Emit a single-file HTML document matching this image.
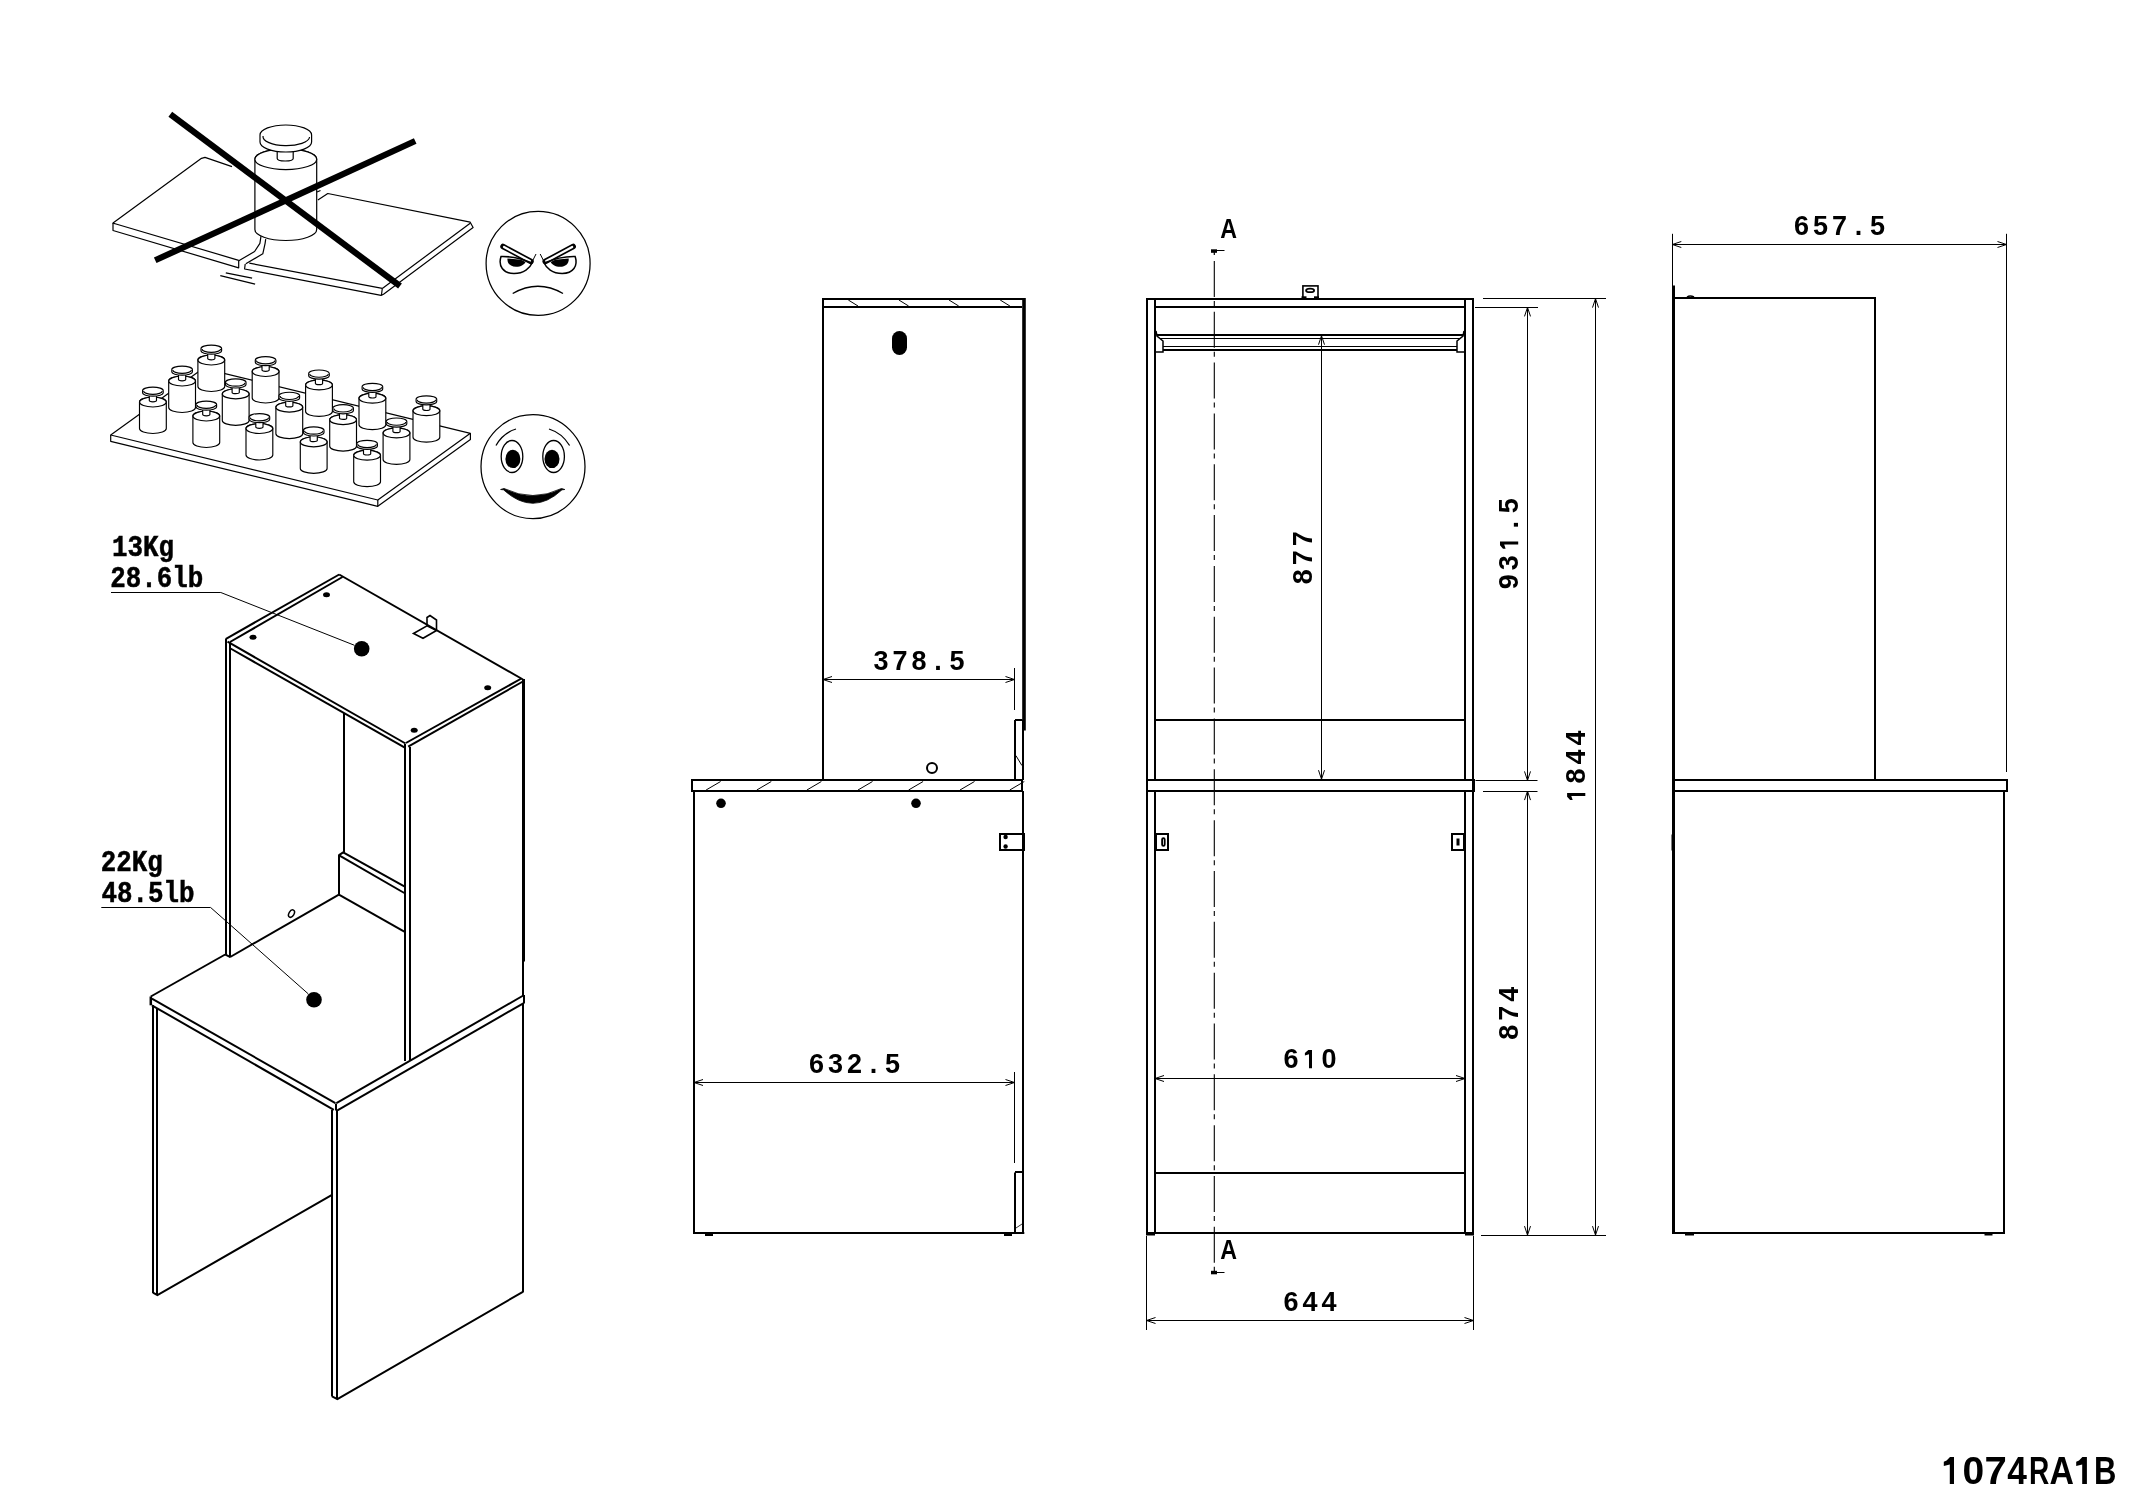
<!DOCTYPE html>
<html><head><meta charset="utf-8"><title>1074RA1B</title>
<style>
html,body{margin:0;padding:0;background:#fff;}
body{width:2134px;height:1509px;overflow:hidden;}
svg{display:block;will-change:transform;}
.dim{font-family:"Liberation Sans",sans-serif;font-weight:bold;font-size:27px;fill:#000;stroke:none;}
.lbl{font-family:"Liberation Sans",sans-serif;font-weight:bold;font-size:27px;fill:#000;stroke:none;}
.lbl2{font-family:"Liberation Mono",monospace;font-weight:bold;font-size:29px;fill:#000;stroke:#000;stroke-width:0.5px;}
.code{font-family:"Liberation Sans",sans-serif;font-weight:bold;font-size:39px;fill:#000;stroke:none;}
</style></head>
<body>
<svg width="2134" height="1509" viewBox="0 0 2134 1509">
<rect width="2134" height="1509" fill="#fff"/>
<g stroke="#000" fill="none" stroke-linecap="butt">
<g id="broken" stroke-linejoin="round">
<polyline points="238.7,260.3 116,224 113,223.1 201.5,158.3 205,157.4 232,166.6" stroke-width="1.2" fill="none"/>
<polyline points="113,223.1 113,230.5 238.7,267.8 238.7,260.3" stroke-width="1.2" fill="none"/>
<polyline points="317.9,199.9 327.8,193.5 470.2,222.2 473.1,227.5 383.5,294.2 381.1,295.4 244.6,269 245.2,264" stroke-width="1.2" fill="none"/>
<line x1="470.2" y1="223.3" x2="382.3" y2="288.4" stroke-width="1.2"/>
<line x1="249.3" y1="263.2" x2="382.3" y2="288.4" stroke-width="1.2"/>
<line x1="382.3" y1="288.4" x2="381.5" y2="295" stroke-width="1.2"/>
<polyline points="238.8,260.8 254.6,251.5 259.9,243.3 261,236.2" stroke-width="1.2" fill="none"/>
<polyline points="245.8,263.8 262.8,253.8 265.1,243.3 265.7,239.2" stroke-width="1.2" fill="none"/>
<line x1="220.3" y1="275.7" x2="255.1" y2="284.2" stroke-width="1.2"/>
<line x1="225.8" y1="272.8" x2="252.1" y2="278.2" stroke-width="1.2"/>
<path d="M254.9,159.2 A30.9,10.4 0 0 1 316.7,159.2 L316.7,229.5 A30.9,11 0 0 1 254.9,229.5 Z" stroke-width="1.2" fill="#fff" />
<ellipse cx="285.8" cy="159.2" rx="30.9" ry="10.4" stroke-width="1.2" fill="#fff"/>
<path d="M277.2,150 L277.2,158.5 A8,2.5 0 0 0 293.2,158.5 L293.2,150" stroke-width="1.2" fill="#fff" />
<path d="M260.0,135 A25.8,10 0 0 1 311.6,135 L311.6,142 A25.8,10 0 0 1 260.0,142 Z" stroke-width="1.2" fill="#fff" />
<path d="M263.0,136 A22.8,9 0 0 0 309.6,137" stroke-width="1.2" fill="none" />
<line x1="317" y1="192" x2="320.5" y2="190.5" stroke-width="1.2"/>
<line x1="170.3" y1="114.2" x2="400" y2="286.1" stroke-width="6.2"/>
<line x1="155.2" y1="260.3" x2="415.2" y2="141" stroke-width="6.2"/>
</g>
<g id="sad">
<circle cx="538.1" cy="263.4" r="52" stroke-width="1.25" fill="none"/>
<line x1="503.0" y1="246.5" x2="531.0" y2="261.5" stroke-width="5.5" stroke-linecap="round"/>
<line x1="504.0" y1="247" x2="530.0" y2="261" stroke-width="2.2" stroke="#fff" stroke-linecap="round"/>
<path d="M501.0,256.5 C498.0,266 503.0,273.5 514.0,273.5 C524.0,273.5 530.0,268 532.0,263" stroke-width="1.5" fill="none" />
<path d="M500.5,256.5 Q516.0,256 532.0,263" stroke-width="1.6" fill="none" />
<path d="M507.5,258.5 C507.0,264 511.0,266.8 516.0,266.8 C521.0,266.8 524.5,264.5 525.5,262 L521.0,259.8 Z" stroke-width="0" fill="#000" />
<line x1="532.0" y1="262" x2="536.0" y2="254" stroke-width="1"/>
<line x1="573.2" y1="246.5" x2="545.2" y2="261.5" stroke-width="5.5" stroke-linecap="round"/>
<line x1="572.2" y1="247" x2="546.2" y2="261" stroke-width="2.2" stroke="#fff" stroke-linecap="round"/>
<path d="M575.2,256.5 C578.2,266 573.2,273.5 562.2,273.5 C552.2,273.5 546.2,268 544.2,263" stroke-width="1.5" fill="none" />
<path d="M575.7,256.5 Q560.2,256 544.2,263" stroke-width="1.6" fill="none" />
<path d="M568.7,258.5 C569.2,264 565.2,266.8 560.2,266.8 C555.2,266.8 551.7,264.5 550.7,262 L555.2,259.8 Z" stroke-width="0" fill="#000" />
<line x1="544.2" y1="262" x2="540.2" y2="254" stroke-width="1"/>
<path d="M512.7,293.5 Q538,279 563,293.5" stroke-width="1.4" fill="none" />
</g>
<g id="board" stroke-linejoin="round">
<polygon points="110.7,435 203.3,368.3 470.4,433.3 377.8,500" stroke-width="1.2" fill="#fff"/>
<polyline points="110.7,435 110.7,441.3 377.8,506.3 470.4,439.5 470.4,433.3" stroke-width="1.2" fill="none"/>
<line x1="377.8" y1="500" x2="377.8" y2="506.3" stroke-width="1.2"/>
<path d="M197.9,360.1 A13.4,4.9 0 0 1 224.70000000000002,360.1 L224.70000000000002,386.6 A13.4,4.9 0 0 1 197.9,386.6 Z" stroke-width="1.15" fill="#fff" />
<ellipse cx="211.3" cy="360.1" rx="13.4" ry="4.9" stroke-width="1.15" fill="#fff"/>
<path d="M207.70000000000002,354.1 L207.70000000000002,358.6 A3.6,1.2 0 0 0 214.9,358.6 L214.9,354.1" stroke-width="1.15" fill="#fff" />
<path d="M201.0,348.5 A10.3,3.4 0 0 1 221.60000000000002,348.5 L221.60000000000002,350.8 A10.3,3.4 0 0 1 201.0,350.8 Z" stroke-width="1.15" fill="#fff" />
<path d="M202.0,349.0 A9.3,3.4 0 0 0 220.60000000000002,349.0" stroke-width="1.15" fill="none" />
<path d="M252.20000000000002,371.6 A13.4,4.9 0 0 1 279.0,371.6 L279.0,398.1 A13.4,4.9 0 0 1 252.20000000000002,398.1 Z" stroke-width="1.15" fill="#fff" />
<ellipse cx="265.6" cy="371.6" rx="13.4" ry="4.9" stroke-width="1.15" fill="#fff"/>
<path d="M262.0,365.6 L262.0,370.1 A3.6,1.2 0 0 0 269.20000000000005,370.1 L269.20000000000005,365.6" stroke-width="1.15" fill="#fff" />
<path d="M255.3,360.0 A10.3,3.4 0 0 1 275.90000000000003,360.0 L275.90000000000003,362.3 A10.3,3.4 0 0 1 255.3,362.3 Z" stroke-width="1.15" fill="#fff" />
<path d="M256.3,360.5 A9.3,3.4 0 0 0 274.90000000000003,360.5" stroke-width="1.15" fill="none" />
<path d="M168.7,381.1 A13.4,4.9 0 0 1 195.5,381.1 L195.5,407.6 A13.4,4.9 0 0 1 168.7,407.6 Z" stroke-width="1.15" fill="#fff" />
<ellipse cx="182.1" cy="381.1" rx="13.4" ry="4.9" stroke-width="1.15" fill="#fff"/>
<path d="M178.5,375.1 L178.5,379.6 A3.6,1.2 0 0 0 185.7,379.6 L185.7,375.1" stroke-width="1.15" fill="#fff" />
<path d="M171.79999999999998,369.5 A10.3,3.4 0 0 1 192.4,369.5 L192.4,371.8 A10.3,3.4 0 0 1 171.79999999999998,371.8 Z" stroke-width="1.15" fill="#fff" />
<path d="M172.79999999999998,370.0 A9.3,3.4 0 0 0 191.4,370.0" stroke-width="1.15" fill="none" />
<path d="M305.6,385.0 A13.4,4.9 0 0 1 332.4,385.0 L332.4,411.5 A13.4,4.9 0 0 1 305.6,411.5 Z" stroke-width="1.15" fill="#fff" />
<ellipse cx="319" cy="385.0" rx="13.4" ry="4.9" stroke-width="1.15" fill="#fff"/>
<path d="M315.4,379.0 L315.4,383.5 A3.6,1.2 0 0 0 322.6,383.5 L322.6,379.0" stroke-width="1.15" fill="#fff" />
<path d="M308.7,373.4 A10.3,3.4 0 0 1 329.3,373.4 L329.3,375.7 A10.3,3.4 0 0 1 308.7,375.7 Z" stroke-width="1.15" fill="#fff" />
<path d="M309.7,373.9 A9.3,3.4 0 0 0 328.3,373.9" stroke-width="1.15" fill="none" />
<path d="M222.29999999999998,393.90000000000003 A13.4,4.9 0 0 1 249.1,393.90000000000003 L249.1,420.40000000000003 A13.4,4.9 0 0 1 222.29999999999998,420.40000000000003 Z" stroke-width="1.15" fill="#fff" />
<ellipse cx="235.7" cy="393.90000000000003" rx="13.4" ry="4.9" stroke-width="1.15" fill="#fff"/>
<path d="M232.1,387.90000000000003 L232.1,392.40000000000003 A3.6,1.2 0 0 0 239.29999999999998,392.40000000000003 L239.29999999999998,387.90000000000003" stroke-width="1.15" fill="#fff" />
<path d="M225.39999999999998,382.3 A10.3,3.4 0 0 1 246.0,382.3 L246.0,384.6 A10.3,3.4 0 0 1 225.39999999999998,384.6 Z" stroke-width="1.15" fill="#fff" />
<path d="M226.39999999999998,382.8 A9.3,3.4 0 0 0 245.0,382.8" stroke-width="1.15" fill="none" />
<path d="M359.0,398.3 A13.4,4.9 0 0 1 385.79999999999995,398.3 L385.79999999999995,424.8 A13.4,4.9 0 0 1 359.0,424.8 Z" stroke-width="1.15" fill="#fff" />
<ellipse cx="372.4" cy="398.3" rx="13.4" ry="4.9" stroke-width="1.15" fill="#fff"/>
<path d="M368.79999999999995,392.3 L368.79999999999995,396.8 A3.6,1.2 0 0 0 376.0,396.8 L376.0,392.3" stroke-width="1.15" fill="#fff" />
<path d="M362.09999999999997,386.7 A10.3,3.4 0 0 1 382.7,386.7 L382.7,389.0 A10.3,3.4 0 0 1 362.09999999999997,389.0 Z" stroke-width="1.15" fill="#fff" />
<path d="M363.09999999999997,387.2 A9.3,3.4 0 0 0 381.7,387.2" stroke-width="1.15" fill="none" />
<path d="M139.5,402.1 A13.4,4.9 0 0 1 166.3,402.1 L166.3,428.6 A13.4,4.9 0 0 1 139.5,428.6 Z" stroke-width="1.15" fill="#fff" />
<ellipse cx="152.9" cy="402.1" rx="13.4" ry="4.9" stroke-width="1.15" fill="#fff"/>
<path d="M149.3,396.1 L149.3,400.6 A3.6,1.2 0 0 0 156.5,400.6 L156.5,396.1" stroke-width="1.15" fill="#fff" />
<path d="M142.6,390.5 A10.3,3.4 0 0 1 163.20000000000002,390.5 L163.20000000000002,392.8 A10.3,3.4 0 0 1 142.6,392.8 Z" stroke-width="1.15" fill="#fff" />
<path d="M143.6,391.0 A9.3,3.4 0 0 0 162.20000000000002,391.0" stroke-width="1.15" fill="none" />
<path d="M275.90000000000003,407.20000000000005 A13.4,4.9 0 0 1 302.7,407.20000000000005 L302.7,433.70000000000005 A13.4,4.9 0 0 1 275.90000000000003,433.70000000000005 Z" stroke-width="1.15" fill="#fff" />
<ellipse cx="289.3" cy="407.20000000000005" rx="13.4" ry="4.9" stroke-width="1.15" fill="#fff"/>
<path d="M285.7,401.20000000000005 L285.7,405.70000000000005 A3.6,1.2 0 0 0 292.90000000000003,405.70000000000005 L292.90000000000003,401.20000000000005" stroke-width="1.15" fill="#fff" />
<path d="M279.0,395.6 A10.3,3.4 0 0 1 299.6,395.6 L299.6,397.90000000000003 A10.3,3.4 0 0 1 279.0,397.90000000000003 Z" stroke-width="1.15" fill="#fff" />
<path d="M280.0,396.1 A9.3,3.4 0 0 0 298.6,396.1" stroke-width="1.15" fill="none" />
<path d="M413.0,410.8 A13.4,4.9 0 0 1 439.79999999999995,410.8 L439.79999999999995,437.3 A13.4,4.9 0 0 1 413.0,437.3 Z" stroke-width="1.15" fill="#fff" />
<ellipse cx="426.4" cy="410.8" rx="13.4" ry="4.9" stroke-width="1.15" fill="#fff"/>
<path d="M422.79999999999995,404.8 L422.79999999999995,409.3 A3.6,1.2 0 0 0 430.0,409.3 L430.0,404.8" stroke-width="1.15" fill="#fff" />
<path d="M416.09999999999997,399.2 A10.3,3.4 0 0 1 436.7,399.2 L436.7,401.5 A10.3,3.4 0 0 1 416.09999999999997,401.5 Z" stroke-width="1.15" fill="#fff" />
<path d="M417.09999999999997,399.7 A9.3,3.4 0 0 0 435.7,399.7" stroke-width="1.15" fill="none" />
<path d="M192.9,416.1 A13.4,4.9 0 0 1 219.70000000000002,416.1 L219.70000000000002,442.6 A13.4,4.9 0 0 1 192.9,442.6 Z" stroke-width="1.15" fill="#fff" />
<ellipse cx="206.3" cy="416.1" rx="13.4" ry="4.9" stroke-width="1.15" fill="#fff"/>
<path d="M202.70000000000002,410.1 L202.70000000000002,414.6 A3.6,1.2 0 0 0 209.9,414.6 L209.9,410.1" stroke-width="1.15" fill="#fff" />
<path d="M196.0,404.5 A10.3,3.4 0 0 1 216.60000000000002,404.5 L216.60000000000002,406.8 A10.3,3.4 0 0 1 196.0,406.8 Z" stroke-width="1.15" fill="#fff" />
<path d="M197.0,405.0 A9.3,3.4 0 0 0 215.60000000000002,405.0" stroke-width="1.15" fill="none" />
<path d="M329.70000000000005,419.70000000000005 A13.4,4.9 0 0 1 356.5,419.70000000000005 L356.5,446.20000000000005 A13.4,4.9 0 0 1 329.70000000000005,446.20000000000005 Z" stroke-width="1.15" fill="#fff" />
<ellipse cx="343.1" cy="419.70000000000005" rx="13.4" ry="4.9" stroke-width="1.15" fill="#fff"/>
<path d="M339.5,413.70000000000005 L339.5,418.20000000000005 A3.6,1.2 0 0 0 346.70000000000005,418.20000000000005 L346.70000000000005,413.70000000000005" stroke-width="1.15" fill="#fff" />
<path d="M332.8,408.1 A10.3,3.4 0 0 1 353.40000000000003,408.1 L353.40000000000003,410.40000000000003 A10.3,3.4 0 0 1 332.8,410.40000000000003 Z" stroke-width="1.15" fill="#fff" />
<path d="M333.8,408.6 A9.3,3.4 0 0 0 352.40000000000003,408.6" stroke-width="1.15" fill="none" />
<path d="M245.99999999999997,428.6 A13.4,4.9 0 0 1 272.79999999999995,428.6 L272.79999999999995,455.1 A13.4,4.9 0 0 1 245.99999999999997,455.1 Z" stroke-width="1.15" fill="#fff" />
<ellipse cx="259.4" cy="428.6" rx="13.4" ry="4.9" stroke-width="1.15" fill="#fff"/>
<path d="M255.79999999999998,422.6 L255.79999999999998,427.1 A3.6,1.2 0 0 0 263.0,427.1 L263.0,422.6" stroke-width="1.15" fill="#fff" />
<path d="M249.09999999999997,417.0 A10.3,3.4 0 0 1 269.7,417.0 L269.7,419.3 A10.3,3.4 0 0 1 249.09999999999997,419.3 Z" stroke-width="1.15" fill="#fff" />
<path d="M250.09999999999997,417.5 A9.3,3.4 0 0 0 268.7,417.5" stroke-width="1.15" fill="none" />
<path d="M383.1,433.0 A13.4,4.9 0 0 1 409.9,433.0 L409.9,459.5 A13.4,4.9 0 0 1 383.1,459.5 Z" stroke-width="1.15" fill="#fff" />
<ellipse cx="396.5" cy="433.0" rx="13.4" ry="4.9" stroke-width="1.15" fill="#fff"/>
<path d="M392.9,427.0 L392.9,431.5 A3.6,1.2 0 0 0 400.1,431.5 L400.1,427.0" stroke-width="1.15" fill="#fff" />
<path d="M386.2,421.4 A10.3,3.4 0 0 1 406.8,421.4 L406.8,423.7 A10.3,3.4 0 0 1 386.2,423.7 Z" stroke-width="1.15" fill="#fff" />
<path d="M387.2,421.9 A9.3,3.4 0 0 0 405.8,421.9" stroke-width="1.15" fill="none" />
<path d="M300.3,441.90000000000003 A13.4,4.9 0 0 1 327.09999999999997,441.90000000000003 L327.09999999999997,468.40000000000003 A13.4,4.9 0 0 1 300.3,468.40000000000003 Z" stroke-width="1.15" fill="#fff" />
<ellipse cx="313.7" cy="441.90000000000003" rx="13.4" ry="4.9" stroke-width="1.15" fill="#fff"/>
<path d="M310.09999999999997,435.90000000000003 L310.09999999999997,440.40000000000003 A3.6,1.2 0 0 0 317.3,440.40000000000003 L317.3,435.90000000000003" stroke-width="1.15" fill="#fff" />
<path d="M303.4,430.3 A10.3,3.4 0 0 1 324.0,430.3 L324.0,432.6 A10.3,3.4 0 0 1 303.4,432.6 Z" stroke-width="1.15" fill="#fff" />
<path d="M304.4,430.8 A9.3,3.4 0 0 0 323.0,430.8" stroke-width="1.15" fill="none" />
<path d="M353.70000000000005,455.3 A13.4,4.9 0 0 1 380.5,455.3 L380.5,481.8 A13.4,4.9 0 0 1 353.70000000000005,481.8 Z" stroke-width="1.15" fill="#fff" />
<ellipse cx="367.1" cy="455.3" rx="13.4" ry="4.9" stroke-width="1.15" fill="#fff"/>
<path d="M363.5,449.3 L363.5,453.8 A3.6,1.2 0 0 0 370.70000000000005,453.8 L370.70000000000005,449.3" stroke-width="1.15" fill="#fff" />
<path d="M356.8,443.7 A10.3,3.4 0 0 1 377.40000000000003,443.7 L377.40000000000003,446.0 A10.3,3.4 0 0 1 356.8,446.0 Z" stroke-width="1.15" fill="#fff" />
<path d="M357.8,444.2 A9.3,3.4 0 0 0 376.40000000000003,444.2" stroke-width="1.15" fill="none" />
</g>
<g id="happy">
<circle cx="533" cy="466.6" r="52" stroke-width="1.25" fill="none"/>
<ellipse cx="512" cy="456.5" rx="10.8" ry="16" stroke-width="1.3" fill="none"/>
<ellipse cx="512.9" cy="458.9" rx="7.5" ry="9.2" stroke-width="0" fill="#000"/>
<ellipse cx="553.6" cy="456.5" rx="10.8" ry="16" stroke-width="1.3" fill="none"/>
<ellipse cx="552" cy="458.9" rx="7.5" ry="9.2" stroke-width="0" fill="#000"/>
<path d="M496,445.5 Q503,433 516,429" stroke-width="1.3" fill="none" />
<path d="M549,429 Q562,433 569.6,445.5" stroke-width="1.3" fill="none" />
<path d="M500.6,489.5 L503.5,489.8 Q533,516.8 562,489.8 L564.8,489.5 L561.5,488.5 Q533,502.5 504,488.5 Z" stroke-width="0.8" fill="#000" />
</g>
<g id="iso">
<line x1="226" y1="638.8" x2="339.2" y2="574.5" stroke-width="2"/>
<line x1="230" y1="642" x2="342.5" y2="577" stroke-width="2"/>
<line x1="339.2" y1="574.5" x2="523" y2="679.5" stroke-width="2"/>
<line x1="227.5" y1="641.7" x2="405.5" y2="743.5" stroke-width="2"/>
<line x1="230.5" y1="648.5" x2="404.4" y2="747.4" stroke-width="2"/>
<line x1="405.9" y1="743" x2="521.4" y2="678.5" stroke-width="2"/>
<line x1="408.2" y1="746.7" x2="522.9" y2="681.5" stroke-width="2"/>
<line x1="226" y1="638.5" x2="226" y2="954.8" stroke-width="2"/>
<line x1="230" y1="642" x2="230" y2="957.3" stroke-width="2"/>
<line x1="405" y1="744" x2="405" y2="1061" stroke-width="2"/>
<line x1="410" y1="747" x2="410" y2="1060" stroke-width="2"/>
<line x1="523.5" y1="679" x2="523.5" y2="961.5" stroke-width="3"/>
<line x1="523" y1="961" x2="523" y2="996" stroke-width="2"/>
<line x1="344" y1="713" x2="344" y2="852.5" stroke-width="2"/>
<line x1="343.2" y1="852.3" x2="404.3" y2="886.4" stroke-width="2"/>
<line x1="339.6" y1="855.6" x2="404.3" y2="893" stroke-width="2"/>
<line x1="339" y1="855.2" x2="343.6" y2="852.1" stroke-width="2"/>
<line x1="339" y1="854.6" x2="339" y2="894.7" stroke-width="2"/>
<line x1="338.9" y1="894.7" x2="404.3" y2="931.7" stroke-width="2"/>
<line x1="230.2" y1="957" x2="338.9" y2="894.7" stroke-width="2"/>
<ellipse cx="291.5" cy="913.6" rx="2.5" ry="4" stroke-width="1.5" fill="none" transform="rotate(30 291.5 913.6)"/>
<ellipse cx="253" cy="637.2" rx="3.5" ry="2.5" stroke-width="0" fill="#000"/>
<ellipse cx="326.5" cy="594.8" rx="3.5" ry="2.5" stroke-width="0" fill="#000"/>
<ellipse cx="487.7" cy="687.8" rx="3.5" ry="2.5" stroke-width="0" fill="#000"/>
<ellipse cx="414.2" cy="730.2" rx="3.5" ry="2.5" stroke-width="0" fill="#000"/>
<circle cx="361.7" cy="648.8" r="7.8" fill="#000" stroke="none"/>
<path d="M413.5,633.5 L427,625.8 L436.5,630.5 L423,638.3 Z" stroke-width="1.6" fill="none" />
<path d="M427,625.8 L427,617.5 L430,615.5 L436.5,620 L436.5,630.5" stroke-width="1.6" fill="none" />
<line x1="150.8" y1="996.5" x2="225.2" y2="954.5" stroke-width="2"/>
<line x1="225" y1="954.3" x2="230.4" y2="957.2" stroke-width="2"/>
<line x1="150.8" y1="996.5" x2="150.8" y2="1005.3" stroke-width="2.5"/>
<line x1="151.9" y1="998.6" x2="335.4" y2="1103.2" stroke-width="2"/>
<line x1="151.9" y1="1005.3" x2="333.8" y2="1109.9" stroke-width="2"/>
<line x1="336.4" y1="1103.2" x2="523.3" y2="995.5" stroke-width="2"/>
<line x1="337.4" y1="1110.4" x2="523.3" y2="1003.3" stroke-width="2"/>
<line x1="336" y1="1103.5" x2="336" y2="1110.5" stroke-width="2"/>
<line x1="524" y1="995" x2="524" y2="1003.5" stroke-width="2"/>
<line x1="153" y1="1005" x2="153" y2="1293" stroke-width="2"/>
<line x1="157" y1="1009" x2="157" y2="1295" stroke-width="2"/>
<polyline points="152.9,1292.6 157.4,1295.2 332,1194.8" stroke-width="2" fill="none"/>
<line x1="332" y1="1110" x2="332" y2="1396.6" stroke-width="2"/>
<line x1="337" y1="1110" x2="337" y2="1399.2" stroke-width="2"/>
<polyline points="332,1396.4 337.4,1399.2 523.3,1291.6" stroke-width="2" fill="none"/>
<line x1="523" y1="1003" x2="523" y2="1292" stroke-width="2"/>
<text x="0" y="0" class="lbl2" text-anchor="start" transform="translate(112,555.9) scale(0.89,1)">13Kg</text>
<text x="0" y="0" class="lbl2" text-anchor="start" transform="translate(110.3,586.7) scale(0.89,1)">28.6lb</text>
<line x1="111" y1="592.5" x2="220.8" y2="592.5" stroke-width="1"/>
<line x1="220.8" y1="592.5" x2="354.5" y2="645.3" stroke-width="1"/>
<text x="0" y="0" class="lbl2" text-anchor="start" transform="translate(100.7,871.3) scale(0.89,1)">22Kg</text>
<text x="0" y="0" class="lbl2" text-anchor="start" transform="translate(101.5,901.8) scale(0.89,1)">48.5lb</text>
<line x1="101.3" y1="907.5" x2="210.5" y2="907.5" stroke-width="1"/>
<line x1="210.5" y1="907.4" x2="308.3" y2="993.9" stroke-width="1"/>
<circle cx="314" cy="999.8" r="7.8" fill="#000" stroke="none"/>
</g>
<g id="side">
<line x1="823" y1="298" x2="823" y2="780" stroke-width="2"/>
<line x1="822" y1="299" x2="1025" y2="299" stroke-width="2"/>
<line x1="823" y1="307" x2="1022" y2="307" stroke-width="2"/>
<line x1="1024" y1="298" x2="1024" y2="730.4" stroke-width="3.6"/>
<line x1="848.3" y1="300" x2="858.0" y2="306" stroke-width="1"/>
<line x1="898.9" y1="300" x2="908.6" y2="306" stroke-width="1"/>
<line x1="949" y1="300" x2="958.7" y2="306" stroke-width="1"/>
<line x1="1000.2" y1="300" x2="1009.9000000000001" y2="306" stroke-width="1"/>
<line x1="1015" y1="720" x2="1022.5" y2="720" stroke-width="2"/>
<line x1="1015" y1="720" x2="1015" y2="780" stroke-width="2"/>
<line x1="1023" y1="720" x2="1023" y2="780" stroke-width="2"/>
<line x1="1015.9" y1="755.6" x2="1021.9" y2="765.5" stroke-width="1"/>
<rect x="892" y="331" width="15" height="24" rx="7.5" fill="#000" stroke="none"/>
<circle cx="932" cy="768" r="5" stroke-width="2" fill="none"/>
<line x1="823" y1="679.5" x2="1014.5" y2="679.5" stroke-width="1"/>
<polyline points="832.00,676.50 823,679.5 832.00,682.50" stroke-width="1" fill="none"/>
<polyline points="1005.50,682.50 1014.5,679.5 1005.50,676.50" stroke-width="1" fill="none"/>
<line x1="1014.5" y1="668" x2="1014.5" y2="710" stroke-width="1"/>
<g transform="translate(919,670)">
<text x="-38.00" y="0" class="dim" text-anchor="middle">3</text>
<text x="-19.00" y="0" class="dim" text-anchor="middle">7</text>
<text x="0.00" y="0" class="dim" text-anchor="middle">8</text>
<text x="19.00" y="0" class="dim" text-anchor="middle">.</text>
<text x="38.00" y="0" class="dim" text-anchor="middle">5</text>
</g>
<rect x="692" y="780" width="330" height="11" stroke-width="2" fill="none"/>
<line x1="706.1" y1="790" x2="720.6" y2="781.5" stroke-width="1"/>
<line x1="756.8" y1="790" x2="771.3" y2="781.5" stroke-width="1"/>
<line x1="806.9" y1="790" x2="821.4" y2="781.5" stroke-width="1"/>
<line x1="858" y1="790" x2="872.5" y2="781.5" stroke-width="1"/>
<line x1="908.6" y1="790" x2="923.1" y2="781.5" stroke-width="1"/>
<line x1="960" y1="790" x2="974.5" y2="781.5" stroke-width="1"/>
<line x1="1009.8" y1="790" x2="1024.3" y2="781.5" stroke-width="1"/>
<line x1="694" y1="791" x2="694" y2="1234" stroke-width="2"/>
<line x1="1023" y1="791" x2="1023" y2="1234" stroke-width="2"/>
<line x1="693" y1="1233" x2="1024.3" y2="1233" stroke-width="2"/>
<circle cx="721" cy="803.3" r="4.8" fill="#000" stroke="none"/>
<circle cx="916" cy="803.3" r="4.8" fill="#000" stroke="none"/>
<rect x="1000" y="834" width="24" height="16" stroke-width="2" fill="none"/>
<circle cx="1005.6" cy="837" r="2.2" fill="#000" stroke="none"/>
<circle cx="1005.6" cy="846.5" r="2.2" fill="#000" stroke="none"/>
<line x1="694" y1="1082.5" x2="1014.5" y2="1082.5" stroke-width="1"/>
<polyline points="703.00,1079.50 694,1082.5 703.00,1085.50" stroke-width="1" fill="none"/>
<polyline points="1005.50,1085.50 1014.5,1082.5 1005.50,1079.50" stroke-width="1" fill="none"/>
<line x1="1014.5" y1="1072" x2="1014.5" y2="1163" stroke-width="1"/>
<g transform="translate(854.6,1073)">
<text x="-38.00" y="0" class="dim" text-anchor="middle">6</text>
<text x="-19.00" y="0" class="dim" text-anchor="middle">3</text>
<text x="0.00" y="0" class="dim" text-anchor="middle">2</text>
<text x="19.00" y="0" class="dim" text-anchor="middle">.</text>
<text x="38.00" y="0" class="dim" text-anchor="middle">5</text>
</g>
<line x1="1015" y1="1172" x2="1022.5" y2="1172" stroke-width="2"/>
<line x1="1015" y1="1172.5" x2="1015" y2="1233" stroke-width="2"/>
<line x1="1016" y1="1228" x2="1022" y2="1224" stroke-width="0.8"/>
<rect x="705" y="1233" width="8" height="3" fill="#000" stroke="none"/>
<rect x="1004" y="1233" width="8" height="3" fill="#000" stroke="none"/>
</g>
<g id="front">
<line x1="1147" y1="298" x2="1147" y2="1234" stroke-width="2"/>
<line x1="1473" y1="298" x2="1473" y2="1234" stroke-width="2"/>
<line x1="1155" y1="298" x2="1155" y2="780" stroke-width="2"/>
<line x1="1155" y1="791" x2="1155" y2="1234" stroke-width="2"/>
<line x1="1465" y1="298" x2="1465" y2="780" stroke-width="2"/>
<line x1="1465" y1="791" x2="1465" y2="1234" stroke-width="2"/>
<line x1="1146" y1="299" x2="1474" y2="299" stroke-width="2"/>
<line x1="1155" y1="307" x2="1465" y2="307" stroke-width="2"/>
<line x1="1157" y1="335" x2="1463" y2="335" stroke-width="2"/>
<line x1="1160" y1="338.5" x2="1460" y2="338.5" stroke-width="1"/>
<line x1="1163" y1="346.5" x2="1457" y2="346.5" stroke-width="1"/>
<line x1="1163" y1="350" x2="1457" y2="350" stroke-width="2"/>
<path d="M1156,331 L1157,336 L1163,341 L1163,350 L1163,352 L1156,352" stroke-width="1.5" fill="none" />
<path d="M1464,331 L1463,336 L1457,341 L1457,350 L1457,352 L1464,352" stroke-width="1.5" fill="none" />
<line x1="1155" y1="720" x2="1465" y2="720" stroke-width="2"/>
<line x1="1146" y1="780" x2="1475" y2="780" stroke-width="2"/>
<line x1="1146" y1="791" x2="1475" y2="791" stroke-width="2"/>
<line x1="1474" y1="780" x2="1474" y2="791.5" stroke-width="2"/>
<line x1="1147" y1="780" x2="1147" y2="791.5" stroke-width="2"/>
<line x1="1155" y1="1173" x2="1465" y2="1173" stroke-width="2"/>
<line x1="1146" y1="1233" x2="1474" y2="1233" stroke-width="2"/>
<rect x="1146" y="1233" width="9" height="2.5" fill="#000" stroke="none"/>
<rect x="1465" y="1233" width="9" height="2.5" fill="#000" stroke="none"/>
<rect x="1156" y="834" width="12" height="16" stroke-width="2" fill="none"/>
<rect x="1162.1" y="838.2" width="2.6" height="7.7" rx="1.3" fill="none" stroke-width="1.8"/>
<rect x="1452" y="834" width="12" height="16" stroke-width="2" fill="none"/>
<rect x="1456.5" y="838.5" width="3" height="7" fill="#000" stroke="none"/>
<rect x="1302.9" y="285.9" width="15.1" height="13" stroke-width="1.6" fill="none"/>
<ellipse cx="1310.1" cy="290.4" rx="4" ry="1.8" stroke-width="1.8" fill="none"/>
<rect x="1301.5" y="296.3" width="5" height="2.5" fill="#000" stroke="none"/>
<rect x="1314" y="296.3" width="5" height="2.5" fill="#000" stroke="none"/>
<line x1="1214.3" y1="260.9" x2="1214.3" y2="1272.5" stroke-width="1.1" stroke-dasharray="36,4,5,5.84"/>
<line x1="1214.3" y1="252" x2="1214.3" y2="255" stroke-width="1.2"/>
<rect x="1211" y="249.3" width="6" height="3.5" fill="#000" stroke="none"/>
<line x1="1217" y1="250.5" x2="1224.5" y2="250.5" stroke-width="1"/>
<rect x="1211" y="1270.8" width="6" height="3.5" fill="#000" stroke="none"/>
<line x1="1217" y1="1272.5" x2="1224.5" y2="1272.5" stroke-width="1"/>
<text x="0" y="0" class="lbl" text-anchor="middle" transform="translate(1228.7,237.8) scale(0.86,1)">A</text>
<text x="0" y="0" class="lbl" text-anchor="middle" transform="translate(1228.6,1259.4) scale(0.86,1)">A</text>
<line x1="1321.5" y1="335.7" x2="1321.5" y2="779.2" stroke-width="1"/>
<polyline points="1324.50,344.70 1321.5,335.7 1318.50,344.70" stroke-width="1" fill="none"/>
<polyline points="1318.50,770.20 1321.5,779.2 1324.50,770.20" stroke-width="1" fill="none"/>
<g transform="translate(1312.1,557.8) rotate(-90)">
<text x="-19.00" y="0" class="dim" text-anchor="middle">8</text>
<text x="0.00" y="0" class="dim" text-anchor="middle">7</text>
<text x="19.00" y="0" class="dim" text-anchor="middle">7</text>
</g>
<line x1="1155" y1="1078.5" x2="1465" y2="1078.5" stroke-width="1"/>
<polyline points="1164.00,1075.50 1155,1078.5 1164.00,1081.50" stroke-width="1" fill="none"/>
<polyline points="1456.00,1081.50 1465,1078.5 1456.00,1075.50" stroke-width="1" fill="none"/>
<g transform="translate(1309.9,1068.2)">
<text x="-19.00" y="0" class="dim" text-anchor="middle">6</text>
<polygon points="2.10,-18.20 2.10,0.00 -0.90,0.00 -0.90,-14.00 -5.00,-12.60 -5.00,-15.20 -1.60,-18.20" fill="#000" stroke="none"/>
<text x="19.00" y="0" class="dim" text-anchor="middle">0</text>
</g>
<line x1="1146.5" y1="1236" x2="1146.5" y2="1330" stroke-width="1"/>
<line x1="1473.5" y1="1236" x2="1473.5" y2="1330" stroke-width="1"/>
<line x1="1146.5" y1="1320.5" x2="1473.5" y2="1320.5" stroke-width="1"/>
<polyline points="1155.50,1317.50 1146.5,1320.5 1155.50,1323.50" stroke-width="1" fill="none"/>
<polyline points="1464.50,1323.50 1473.5,1320.5 1464.50,1317.50" stroke-width="1" fill="none"/>
<g transform="translate(1309.9,1310.8)">
<text x="-19.00" y="0" class="dim" text-anchor="middle">6</text>
<text x="0.00" y="0" class="dim" text-anchor="middle">4</text>
<text x="19.00" y="0" class="dim" text-anchor="middle">4</text>
</g>
<line x1="1483" y1="298.5" x2="1606" y2="298.5" stroke-width="1"/>
<line x1="1475" y1="307.5" x2="1538" y2="307.5" stroke-width="1"/>
<line x1="1475.5" y1="780.5" x2="1537.5" y2="780.5" stroke-width="1"/>
<line x1="1483" y1="791.5" x2="1537.5" y2="791.5" stroke-width="1"/>
<line x1="1481" y1="1235.5" x2="1606" y2="1235.5" stroke-width="1"/>
<line x1="1527.5" y1="307.4" x2="1527.5" y2="780.4" stroke-width="1"/>
<polyline points="1530.50,316.40 1527.5,307.4 1524.50,316.40" stroke-width="1" fill="none"/>
<polyline points="1524.50,771.40 1527.5,780.4 1530.50,771.40" stroke-width="1" fill="none"/>
<line x1="1527.5" y1="791.1" x2="1527.5" y2="1235.1" stroke-width="1"/>
<polyline points="1530.50,800.10 1527.5,791.1 1524.50,800.10" stroke-width="1" fill="none"/>
<polyline points="1524.50,1226.10 1527.5,1235.1 1530.50,1226.10" stroke-width="1" fill="none"/>
<line x1="1595.5" y1="298.6" x2="1595.5" y2="1235.1" stroke-width="1"/>
<polyline points="1598.50,307.60 1595.5,298.6 1592.50,307.60" stroke-width="1" fill="none"/>
<polyline points="1592.50,1226.10 1595.5,1235.1 1598.50,1226.10" stroke-width="1" fill="none"/>
<g transform="translate(1518.2,543.7) rotate(-90)">
<text x="-38.00" y="0" class="dim" text-anchor="middle">9</text>
<text x="-19.00" y="0" class="dim" text-anchor="middle">3</text>
<polygon points="2.10,-18.20 2.10,0.00 -0.90,0.00 -0.90,-14.00 -5.00,-12.60 -5.00,-15.20 -1.60,-18.20" fill="#000" stroke="none"/>
<text x="19.00" y="0" class="dim" text-anchor="middle">.</text>
<text x="38.00" y="0" class="dim" text-anchor="middle">5</text>
</g>
<g transform="translate(1517.9,1013.3) rotate(-90)">
<text x="-19.00" y="0" class="dim" text-anchor="middle">8</text>
<text x="0.00" y="0" class="dim" text-anchor="middle">7</text>
<text x="19.00" y="0" class="dim" text-anchor="middle">4</text>
</g>
<g transform="translate(1585.3,766.6) rotate(-90)">
<polygon points="-26.40,-18.20 -26.40,0.00 -29.40,0.00 -29.40,-14.00 -33.50,-12.60 -33.50,-15.20 -30.10,-18.20" fill="#000" stroke="none"/>
<text x="-9.50" y="0" class="dim" text-anchor="middle">8</text>
<text x="9.50" y="0" class="dim" text-anchor="middle">4</text>
<text x="28.50" y="0" class="dim" text-anchor="middle">4</text>
</g>
</g>
<g id="right">
<line x1="1673.5" y1="285.5" x2="1673.5" y2="1234" stroke-width="3"/>
<line x1="1672.5" y1="233.8" x2="1672.5" y2="286" stroke-width="1"/>
<line x1="1672.3" y1="244.5" x2="2006.5" y2="244.5" stroke-width="1"/>
<polyline points="1681.30,241.50 1672.3,244.5 1681.30,247.50" stroke-width="1" fill="none"/>
<polyline points="1997.50,247.50 2006.5,244.5 1997.50,241.50" stroke-width="1" fill="none"/>
<line x1="2006.5" y1="233.8" x2="2006.5" y2="772" stroke-width="1"/>
<g transform="translate(1839.6,234.7)">
<text x="-38.00" y="0" class="dim" text-anchor="middle">6</text>
<text x="-19.00" y="0" class="dim" text-anchor="middle">5</text>
<text x="0.00" y="0" class="dim" text-anchor="middle">7</text>
<text x="19.00" y="0" class="dim" text-anchor="middle">.</text>
<text x="38.00" y="0" class="dim" text-anchor="middle">5</text>
</g>
<line x1="1673" y1="298" x2="1876" y2="298" stroke-width="2"/>
<line x1="1875" y1="298.5" x2="1875" y2="780" stroke-width="2"/>
<path d="M1687,297 q3,-2 7,0" stroke-width="1.5" fill="none" />
<rect x="1674" y="780" width="333" height="11" stroke-width="2" fill="none"/>
<line x1="2004" y1="791" x2="2004" y2="1234" stroke-width="2"/>
<line x1="1673" y1="1233" x2="2005" y2="1233" stroke-width="2"/>
<rect x="1685" y="1233" width="9" height="2.5" fill="#000" stroke="none"/>
<rect x="1984.5" y="1233" width="8" height="2.5" fill="#000" stroke="none"/>
<rect x="1671.5" y="834.5" width="2.5" height="16" fill="#000" stroke="none"/>
</g>
<text x="0" y="0" class="code" text-anchor="middle" transform="translate(1973.28,1484.0) scale(1.0,1)">0</text>
<text x="0" y="0" class="code" text-anchor="middle" transform="translate(1995.57,1484.0) scale(1.03,1)">7</text>
<text x="0" y="0" class="code" text-anchor="middle" transform="translate(2017.18,1484.0) scale(0.905,1)">4</text>
<text x="0" y="0" class="code" text-anchor="middle" transform="translate(2039.25,1484.0) scale(0.72,1)">R</text>
<text x="0" y="0" class="code" text-anchor="middle" transform="translate(2061.58,1484.0) scale(0.867,1)">A</text>
<text x="0" y="0" class="code" text-anchor="middle" transform="translate(2105.12,1484.0) scale(0.795,1)">B</text>
<polygon points="1954.00,1457.10 1954.00,1484.00 1949.80,1484.00 1949.80,1464.40 1943.80,1465.90 1943.80,1461.80 1946.60,1460.40 1950.00,1457.10" fill="#000" stroke="none"/>
<polygon points="2086.90,1457.10 2086.90,1484.00 2082.20,1484.00 2082.20,1464.40 2076.20,1465.90 2076.20,1461.80 2079.00,1460.40 2082.40,1457.10" fill="#000" stroke="none"/>
</g>
</svg>
</body></html>
